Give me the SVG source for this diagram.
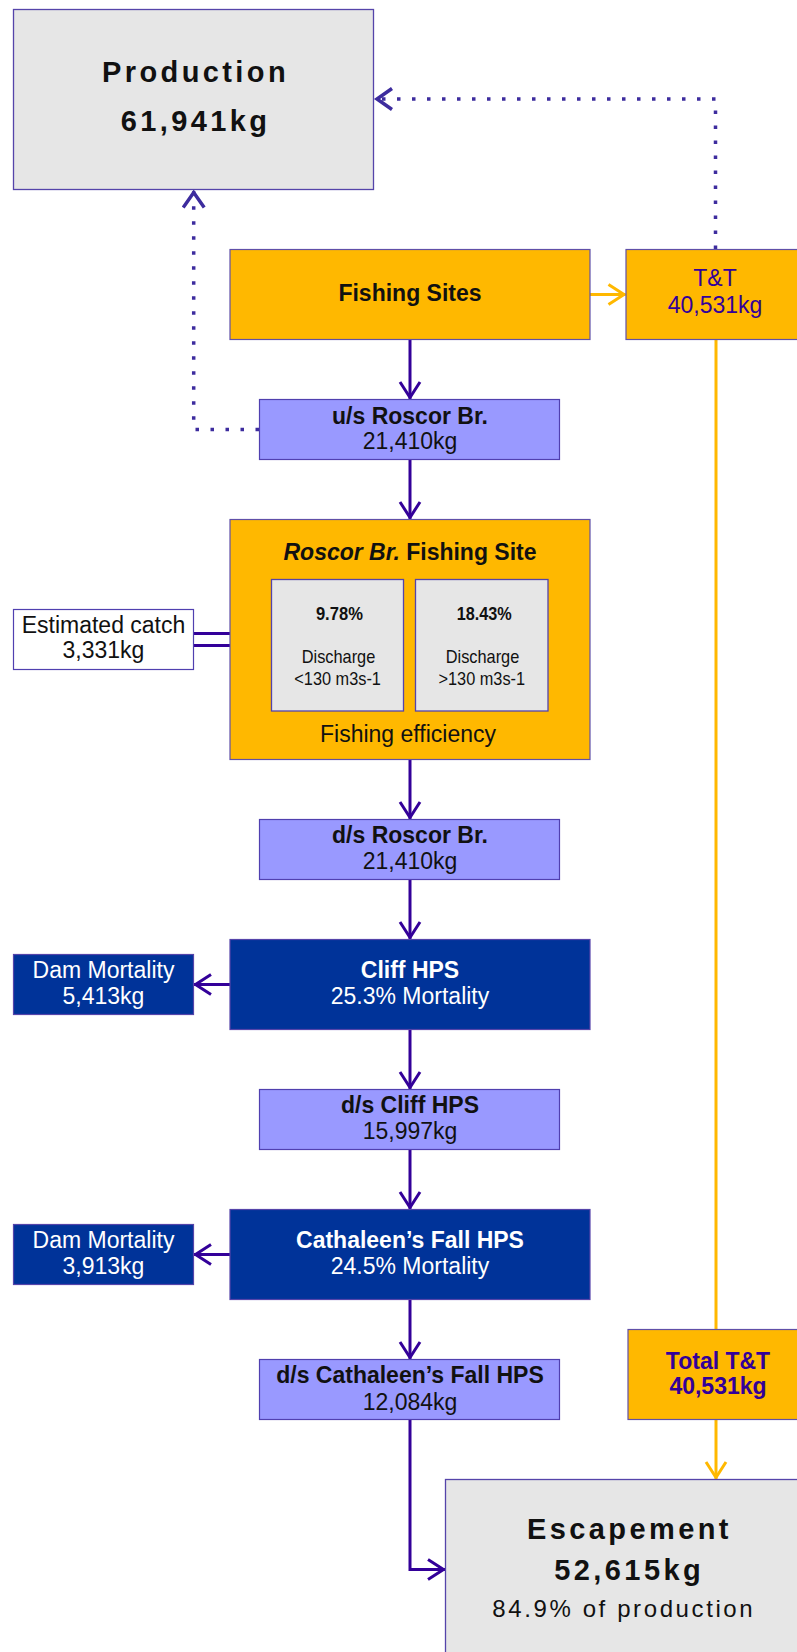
<svg xmlns="http://www.w3.org/2000/svg" width="797" height="1652" viewBox="0 0 797 1652">
<style>
text{font-family:"Liberation Sans",Arial,sans-serif;font-size:23px;text-anchor:middle;fill:#111}
.b{font-weight:bold}
.w{fill:#fff}
.p{fill:#330099}
.big{font-size:29px;font-weight:bold;letter-spacing:3.4px}
.sm{font-size:18.5px}
.gray{fill:#E6E6E6;stroke:#5544AA;stroke-width:1.3}
.org{fill:#FFB800;stroke:#6050A8;stroke-width:1.2}
.lp{fill:#9999FF;stroke:#5040B0;stroke-width:1.2}
.db{fill:#003399;stroke:#5544AA;stroke-width:1.2}
.wh{fill:#fff;stroke:#5040B0;stroke-width:1.2}
.ln{fill:none;stroke:#330099;stroke-width:3}
.ol{fill:none;stroke:#FFB800;stroke-width:3}
.dot{fill:none;stroke:#3D2C9E;stroke-width:3.5;stroke-dasharray:3.5 11.5}
</style>
<defs>
<marker id="ap" viewBox="-20 -12 22 24" refX="0" refY="0" markerWidth="22" markerHeight="24" markerUnits="userSpaceOnUse" orient="auto">
<path d="M-17,-10 L-1.5,0 L-17,10" fill="none" stroke="#330099" stroke-width="3"/>
</marker>
<marker id="ao" viewBox="-20 -12 22 24" refX="0" refY="0" markerWidth="22" markerHeight="24" markerUnits="userSpaceOnUse" orient="auto">
<path d="M-17,-10 L-1.5,0 L-17,10" fill="none" stroke="#FFB800" stroke-width="3"/>
</marker>
<marker id="ad" viewBox="-20 -12 22 24" refX="0" refY="0" markerWidth="22" markerHeight="24" markerUnits="userSpaceOnUse" orient="auto">
<path d="M-17,-10.5 L-2,0 L-17,10.5" fill="none" stroke="#3D2C9E" stroke-width="3.5"/>
</marker>
</defs>

<g id="connectors">
<path class="dot" d="M715.5,249 L715.5,99 L375,99" marker-end="url(#ad)"/>
<path class="dot" d="M259,429.5 L193.7,429.5 L193.7,190.5" marker-end="url(#ad)"/>
<path class="ol" d="M590,294.5 L625.5,294.5" marker-end="url(#ao)"/>
<path class="ol" d="M716,339.5 L716,1329.5"/>
<path class="ol" d="M716,1419.5 L716,1479" marker-end="url(#ao)"/>
<path class="ln" d="M410,339.5 L410,399" marker-end="url(#ap)"/>
<path class="ln" d="M410,459.5 L410,519" marker-end="url(#ap)"/>
<path class="ln" d="M410,759.5 L410,819" marker-end="url(#ap)"/>
<path class="ln" d="M410,879.5 L410,939" marker-end="url(#ap)"/>
<path class="ln" d="M410,1029.5 L410,1089" marker-end="url(#ap)"/>
<path class="ln" d="M410,1149.5 L410,1209" marker-end="url(#ap)"/>
<path class="ln" d="M410,1299.5 L410,1359" marker-end="url(#ap)"/>
<path class="ln" d="M410,1419.5 L410,1569.5 L445,1569.5" marker-end="url(#ap)"/>
<path class="ln" d="M230,984.5 L194,984.5" marker-end="url(#ap)"/>
<path class="ln" d="M230,1254.5 L194,1254.5" marker-end="url(#ap)"/>
<path class="ln" d="M193.7,633.5 L230,633.5 M193.7,645.5 L230,645.5"/>
</g>

<g id="production">
<rect class="gray" x="13.5" y="9.5" width="360" height="180"/>
<text class="big" x="195.5" y="82">Production</text>
<text class="big" x="195.5" y="130.5">61,941kg</text>
</g>

<g id="fishing-sites">
<rect class="org" x="230" y="249.5" width="360" height="90"/>
<text class="b" x="410" y="301">Fishing Sites</text>
</g>

<g id="tt">
<rect class="org" x="626" y="249.5" width="190" height="90"/>
<text class="p" x="715" y="286">T&amp;T</text>
<text class="p" x="715" y="313">40,531kg</text>
</g>

<g id="us-roscor">
<rect class="lp" x="259.5" y="399.5" width="300" height="60"/>
<text class="b" x="410" y="423.5">u/s Roscor Br.</text>
<text x="410" y="448.5">21,410kg</text>
</g>

<g id="roscor-site">
<rect class="org" x="230" y="519.5" width="360" height="240"/>
<text class="b" x="410" y="560"><tspan font-style="italic">Roscor Br.</tspan> Fishing Site</text>
<rect class="gray" x="271.5" y="579.5" width="132" height="131.5" stroke-width="1.2"/>
<rect class="gray" x="415.5" y="579.5" width="132.5" height="131.5" stroke-width="1.2"/>
<text class="sm b" x="339.4" y="620" textLength="47" lengthAdjust="spacingAndGlyphs">9.78%</text>
<text class="sm" x="338.5" y="663" textLength="73.6" lengthAdjust="spacingAndGlyphs">Discharge</text>
<text class="sm" x="337.6" y="685" textLength="86.6" lengthAdjust="spacingAndGlyphs">&lt;130 m3s-1</text>
<text class="sm b" x="484.2" y="620" textLength="55" lengthAdjust="spacingAndGlyphs">18.43%</text>
<text class="sm" x="482.5" y="663" textLength="73.6" lengthAdjust="spacingAndGlyphs">Discharge</text>
<text class="sm" x="481.8" y="685" textLength="86.6" lengthAdjust="spacingAndGlyphs">&gt;130 m3s-1</text>
<text x="408" y="741.5">Fishing efficiency</text>
</g>

<g id="estimated-catch">
<rect class="wh" x="13.5" y="609.5" width="180" height="60"/>
<text x="103.5" y="632.5">Estimated catch</text>
<text x="103.5" y="658">3,331kg</text>
</g>

<g id="ds-roscor">
<rect class="lp" x="259.5" y="819.5" width="300" height="60"/>
<text class="b" x="410" y="843">d/s Roscor Br.</text>
<text x="410" y="868.5">21,410kg</text>
</g>

<g id="cliff">
<rect class="db" x="230" y="939.5" width="360" height="90"/>
<text class="b w" x="410" y="977.5">Cliff HPS</text>
<text class="w" x="410" y="1003.5">25.3% Mortality</text>
</g>

<g id="dam1">
<rect class="db" x="13.5" y="954.5" width="180" height="60"/>
<text class="w" x="103.5" y="977.5">Dam Mortality</text>
<text class="w" x="103.5" y="1003.5">5,413kg</text>
</g>

<g id="ds-cliff">
<rect class="lp" x="259.5" y="1089.5" width="300" height="60"/>
<text class="b" x="410" y="1112.5">d/s Cliff HPS</text>
<text x="410" y="1139">15,997kg</text>
</g>

<g id="cathaleen">
<rect class="db" x="230" y="1209.5" width="360" height="90"/>
<text class="b w" x="410" y="1248">Cathaleen’s Fall HPS</text>
<text class="w" x="410" y="1274">24.5% Mortality</text>
</g>

<g id="dam2">
<rect class="db" x="13.5" y="1224.5" width="180" height="60"/>
<text class="w" x="103.5" y="1248">Dam Mortality</text>
<text class="w" x="103.5" y="1274">3,913kg</text>
</g>

<g id="ds-cathaleen">
<rect class="lp" x="259.5" y="1359.5" width="300" height="60"/>
<text class="b" x="410" y="1382.5">d/s Cathaleen’s Fall HPS</text>
<text x="410" y="1409.5">12,084kg</text>
</g>

<g id="total-tt">
<rect class="org" x="628" y="1329.5" width="190" height="90"/>
<text class="b p" x="718" y="1369">Total T&amp;T</text>
<text class="b p" x="718" y="1394">40,531kg</text>
</g>

<g id="escapement">
<rect class="gray" x="445.5" y="1479.5" width="380" height="200"/>
<text class="big" x="629.4" y="1539">Escapement</text>
<text class="big" x="629.2" y="1580">52,615kg</text>
<text x="623.8" y="1616.5" style="font-size:24px;letter-spacing:2.6px">84.9% of production</text>
</g>
</svg>
